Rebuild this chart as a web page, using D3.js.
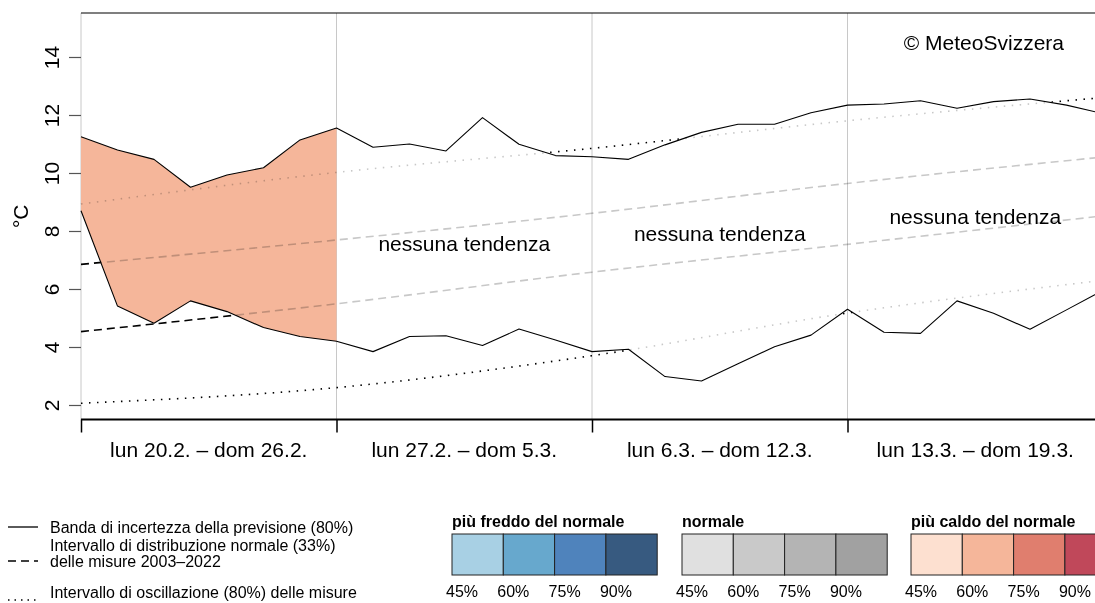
<!DOCTYPE html>
<html><head><meta charset="utf-8">
<script src="https://cdn.jsdelivr.net/npm/d3@7"></script>
<style>
body{margin:0;background:#fff}
svg{display:block}
text{font-family:"Liberation Sans",Arial,Helvetica,sans-serif;fill:#000}
</style>
</head><body>
<svg id="c" width="1095" height="603"></svg>
<script>
// ---------- data ----------
const weekLabels = ["lun 20.2. \u2013 dom 26.2.", "lun 27.2. \u2013 dom 5.3.", "lun 6.3. \u2013 dom 12.3.", "lun 13.3. \u2013 dom 19.3."];
const weekStarts = [0, 7, 14, 21, 28];
const yTicks = [2, 4, 6, 8, 10, 12, 14];

// forecast 80% uncertainty band, one value per day (day 0 = lun 20.2.)
const upper = [11.25,10.79,10.47,9.51,9.93,10.18,11.14,11.55,10.89,11.00,10.76,11.91,10.99,10.60,10.56,10.47,10.97,11.40,11.68,11.68,12.08,12.34,12.38,12.49,12.23,12.46,12.55,12.34,12.05];
const lower = [8.70,5.41,4.82,5.59,5.22,4.67,4.36,4.20,3.84,4.36,4.39,4.05,4.62,4.24,3.84,3.92,2.98,2.83,3.42,4.01,4.41,5.30,4.51,4.47,5.59,5.16,4.61,5.28,5.95];

// climatology 2003-2022
const climDays = [0, 7, 14, 21, 28];
const q10 = [2.06, 2.60, 3.70, 5.17, 6.30];
const q33 = [4.53, 5.49, 6.58, 7.54, 8.52];
const q67 = [6.85, 7.69, 8.61, 9.64, 10.55];
const q90 = [8.93, 10.02, 10.85, 11.80, 12.60];

// weekly category (index of week that is shaded)
const shadedWeeks = [0];
const shadeColor = "#F5B69A";

// "no trend" annotations
const trendText = "nessuna tendenza";
const trendWeeks = [1, 2, 3];
const trendTemps = [7.31, 7.66, 8.24];

const copyright = "\u00A9 MeteoSvizzera";
const yLabel = "\u00B0C";

// legends
const lineLegendLabels = [
  ["Banda di incertezza della previsione (80%)"],
  ["Intervallo di distribuzione normale (33%)", "delle misure 2003\u20132022"],
  ["Intervallo di oscillazione (80%) delle misure"]
];
const lineLegendDash = [null, "8,5", "1.5,5"];
const catTitles = ["pi\u00F9 freddo del normale", "normale", "pi\u00F9 caldo del normale"];
const catColors = [
  ["#A8D0E4", "#67A8CD", "#4F83BC", "#375A80"],
  ["#E0E0E0", "#C9C9C9", "#B4B4B4", "#A1A1A1"],
  ["#FDE0D0", "#F5B69A", "#E07E6E", "#C0485A"]
];
const catPct = ["45%", "60%", "75%", "90%"];

// ---------- drawing ----------
const svg = d3.select("#c");
const W = 1095;
const x = d3.scaleLinear().domain([0, 28]).range([81, 1103]);
const y = d3.scaleLinear().domain([1.517, 15.517]).range([419, 13]);
const plotTop = 13, plotBottom = 419.5, plotLeft = 81;

const days = upper.map((_, i) => i);
const defs = svg.append("defs");
const bandArea = d3.area().x(i => x(i)).y0(i => y(lower[i])).y1(i => y(upper[i]));

defs.append("clipPath").attr("id", "inBand").append("path").attr("d", bandArea(days));
const m = defs.append("mask").attr("id", "outBand");
m.append("rect").attr("x", 0).attr("y", 0).attr("width", W).attr("height", 603).attr("fill", "#fff");
m.append("path").attr("d", bandArea(days)).attr("fill", "#000");

// grid lines at week starts
svg.append("g").selectAll("line").data(weekStarts).join("line")
  .attr("x1", d => x(d)).attr("x2", d => x(d))
  .attr("y1", plotTop).attr("y2", plotBottom)
  .attr("stroke", "#c8c8c8").attr("stroke-width", 1);

// shaded weeks
shadedWeeks.forEach(w => {
  const ds = days.filter(i => i >= weekStarts[w] && i <= weekStarts[w + 1]);
  svg.append("path").attr("d", bandArea(ds)).attr("fill", shadeColor).attr("stroke", "none");
});

// climatology lines
const climLine = d3.line().x(d => x(d[0])).y(d => y(d[1])).curve(d3.curveMonotoneX);
const clim = [
  {v: q10, dash: "1.5,6.5"},
  {v: q33, dash: "8,5"},
  {v: q67, dash: "8,5"},
  {v: q90, dash: "1.5,6.5"}
];
const gIn = svg.append("g").attr("clip-path", "url(#inBand)").style("mix-blend-mode", "multiply");
const gOut = svg.append("g").attr("mask", "url(#outBand)");
clim.forEach(c => {
  const pts = climDays.map((d, i) => [d, c.v[i]]);
  gIn.append("path").attr("d", climLine(pts)).attr("fill", "none")
    .attr("stroke", "#c8c8c8").attr("stroke-width", 1.6).attr("stroke-dasharray", c.dash);
  gOut.append("path").attr("d", climLine(pts)).attr("fill", "none")
    .attr("stroke", "#000").attr("stroke-width", 1.6).attr("stroke-dasharray", c.dash);
});

// forecast band lines
const fLine = d3.line().x(i => x(i));
[upper, lower].forEach(arr => {
  svg.append("path").attr("d", fLine.y(i => y(arr[i]))(days))
    .attr("fill", "none").attr("stroke", "#000").attr("stroke-width", 1.1).attr("stroke-linejoin", "round");
});

// frame: top line and bottom axis line
svg.append("line").attr("x1", plotLeft).attr("x2", W).attr("y1", plotTop).attr("y2", plotTop)
  .attr("stroke", "#000").attr("stroke-width", 1.2);
svg.append("line").attr("x1", plotLeft).attr("x2", W).attr("y1", plotBottom).attr("y2", plotBottom)
  .attr("stroke", "#000").attr("stroke-width", 2);

// x axis ticks
const xAxis = svg.append("g").attr("transform", `translate(0,${plotBottom})`)
  .call(d3.axisBottom(x).tickValues(weekStarts).tickSize(13).tickFormat(""));
xAxis.select(".domain").remove();
xAxis.selectAll(".tick line").attr("stroke", "#000").attr("stroke-width", 1.5);

// week labels
svg.append("g").selectAll("text").data(weekLabels).join("text")
  .attr("x", (d, i) => x((weekStarts[i] + weekStarts[i + 1]) / 2))
  .attr("y", 457).attr("text-anchor", "middle").attr("font-size", 21).text(d => d);

// y axis
const yAxis = svg.append("g").attr("transform", `translate(${plotLeft},0)`)
  .call(d3.axisLeft(y).tickValues(yTicks).tickSize(12));
yAxis.select(".domain").remove();
yAxis.selectAll(".tick line").attr("stroke", "#555").attr("stroke-width", 1.2);
yAxis.selectAll(".tick text").attr("x", null).attr("dy", null)
  .attr("text-anchor", "middle").attr("fill", "#000").attr("font-size", 21)
  .attr("font-family", "Liberation Sans, Arial, sans-serif")
  .attr("transform", "translate(-22,0) rotate(-90)");

svg.append("text").attr("transform", `translate(28,${(plotTop + plotBottom) / 2}) rotate(-90)`)
  .attr("text-anchor", "middle").attr("font-size", 21).text(yLabel);

// annotations
svg.append("g").selectAll("text").data(trendWeeks).join("text")
  .attr("x", (w) => x((weekStarts[w] + weekStarts[w + 1]) / 2))
  .attr("y", (w, i) => y(trendTemps[i]))
  .attr("text-anchor", "middle").attr("font-size", 21).text(trendText);

svg.append("text").attr("x", 1064).attr("y", 50).attr("text-anchor", "end")
  .attr("font-size", 21).text(copyright);

// line legend
const llY = [527, 561, 600];
const llText = [[533], [551], [598]];
lineLegendLabels.forEach((lines, i) => {
  const ln = svg.append("line").attr("x1", 8).attr("x2", 38).attr("y1", llY[i]).attr("y2", llY[i])
    .attr("stroke", "#000").attr("stroke-width", 1.3);
  if (lineLegendDash[i]) ln.attr("stroke-dasharray", lineLegendDash[i]);
  const t = svg.append("text").attr("x", 50).attr("y", llText[i][0]).attr("font-size", 16);
  lines.forEach((s, j) => {
    t.append("tspan").attr("x", 50).attr("dy", j === 0 ? 0 : 15.5).text(s);
  });
});

// category legend
const catLeft = [452, 682, 911];
const boxW = 51.3, boxTop = 534, boxH = 41;
catTitles.forEach((t, k) => {
  const g = svg.append("g");
  g.append("text").attr("x", catLeft[k]).attr("y", 527).attr("font-size", 16)
    .attr("font-weight", "bold").text(t);
  g.selectAll("rect").data(catColors[k]).join("rect")
    .attr("x", (d, i) => catLeft[k] + i * boxW).attr("y", boxTop)
    .attr("width", boxW).attr("height", boxH)
    .attr("fill", d => d).attr("stroke", "#222").attr("stroke-width", 1);
  g.selectAll("text.pct").data(catPct).join("text").attr("class", "pct")
    .attr("x", (d, i) => catLeft[k] + i * boxW + 10).attr("y", 596.5)
    .attr("text-anchor", "middle").attr("font-size", 16).text(d => d);
});
</script>
</body></html>
